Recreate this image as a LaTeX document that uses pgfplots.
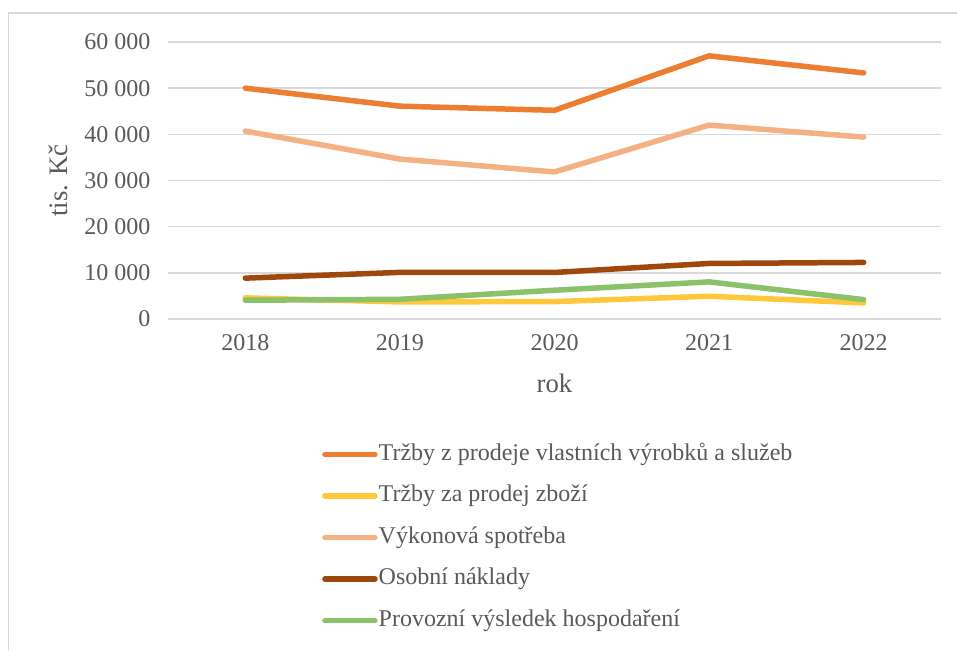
\documentclass[border=0pt]{standalone}
\usepackage{pgfplots}
\pgfplotsset{compat=1.18}
\usepackage{fontspec}
\setmainfont{Liberation Serif}
\definecolor{c1}{HTML}{ED7D31}
\definecolor{c2}{HTML}{FFC83A}
\definecolor{c3}{HTML}{F4B183}
\definecolor{c4}{HTML}{9E480E}
\definecolor{c5}{HTML}{8BC168}
\definecolor{txt}{HTML}{595959}
\definecolor{grd}{HTML}{D9D9D9}
\begin{document}
\begin{tikzpicture}
\useasboundingbox (0pt,0pt) rectangle (957pt,650pt);
\draw[grd, line width=1.5pt] (8.5pt,0pt) -- (8.5pt,637pt) -- (957pt,637pt);
\begin{axis}[
  at={(168pt,331pt)}, anchor=south west,
  scale only axis, width=773pt, height=277pt,
  xmin=-0.5, xmax=4.5, ymin=0, ymax=60000,
  scaled y ticks=false,
  xtick={0,1,2,3,4}, xticklabels={2018,2019,2020,2021,2022},
  ytick={0,10000,20000,30000,40000,50000,60000},
  yticklabels={0,10 000,20 000,30 000,40 000,50 000,60 000},
  axis line style={draw=none},
  major tick length=0pt,
  ymajorgrids, grid style={grd, line width=1.5pt},
  tick label style={font=\fontsize{24}{28}\selectfont, text=txt},
  xticklabel style={yshift=-12pt},
  yticklabel style={xshift=-14pt},
  every axis y label/.style={at={(rel axis cs:0,0.5)}, xshift=-110pt, rotate=90, anchor=center, font=\fontsize{26.7}{30}\selectfont, text=txt},
  every axis x label/.style={at={(rel axis cs:0.5,0)}, yshift=-64pt, anchor=center, font=\fontsize{26.7}{30}\selectfont, text=txt},
  ylabel={tis. Kč}, xlabel={rok},
  clip=false,
  legend image code/.code={\draw[#1] (0pt,0pt) -- (50pt,0pt);},
  legend cell align=left,
  legend style={at={(rel axis cs:0,0)}, anchor=north west, xshift=154pt, yshift=-124pt,
    draw=none, fill=none, inner sep=0pt, row sep=18.5pt, column sep=1pt,
    nodes={inner sep=0pt, text height=17pt, text depth=6pt, text=txt},
    font=\fontsize{24}{28}\selectfont},
  every axis plot/.append style={line width=5.5pt, line cap=round, line join=round},
]
\addplot[c1] coordinates {(0,50000) (1,46100) (2,45200) (3,57000) (4,53300)};
\addlegendentry{Tržby z prodeje vlastních výrobků a služeb}
\addplot[c2] coordinates {(0,4570) (1,3700) (2,3770) (3,4930) (4,3480)};
\addlegendentry{Tržby za prodej zboží}
\addplot[c3] coordinates {(0,40700) (1,34650) (2,31850) (3,42000) (4,39400)};
\addlegendentry{Výkonová spotřeba}
\addplot[c4] coordinates {(0,8850) (1,10100) (2,10080) (3,12030) (4,12250)};
\addlegendentry{Osobní náklady}
\addplot[c5] coordinates {(0,4060) (1,4270) (2,6230) (3,8040) (4,4200)};
\addlegendentry{Provozní výsledek hospodaření}
\end{axis}
\end{tikzpicture}
\end{document}
